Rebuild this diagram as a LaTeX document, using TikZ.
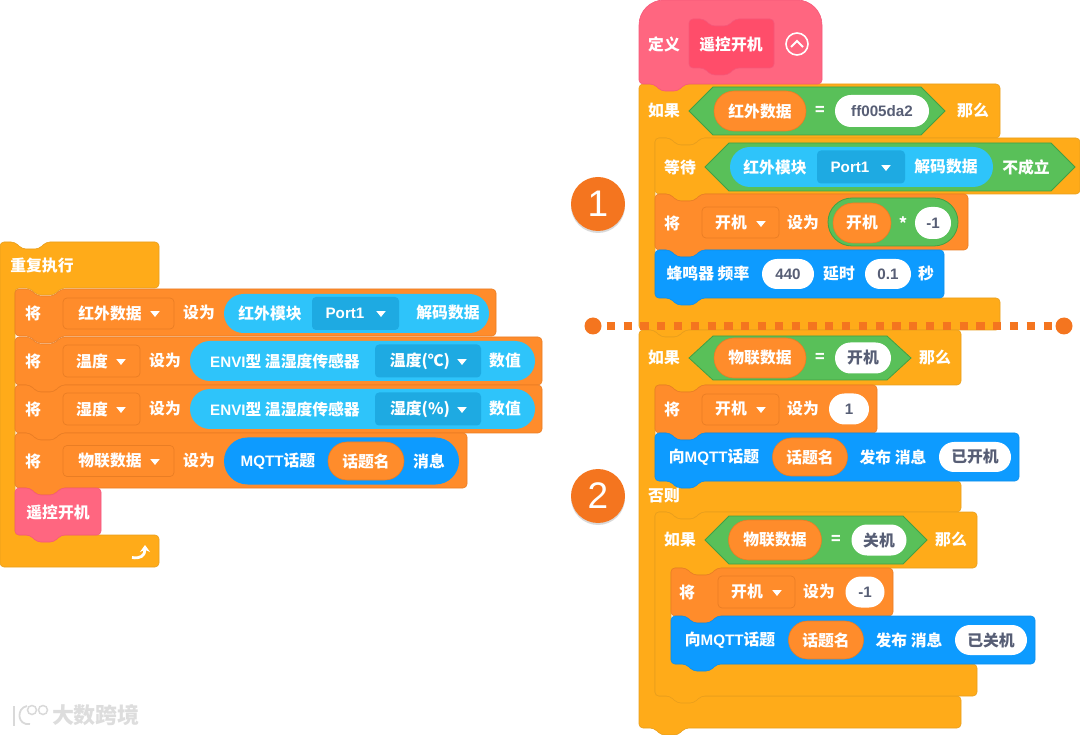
\documentclass[tikz,border=0pt]{standalone}
\usepackage{fontspec}
\setmainfont{Liberation Sans}
\newfontfamily\cjk{Noto Sans CJK SC}
\newfontfamily\lat[Scale=0.96]{Liberation Sans}
\usetikzlibrary{arrows.meta,shadows,shapes.geometric,shapes.misc}
\definecolor{yel}{HTML}{FFAB19}
\definecolor{yelline}{HTML}{E89E1C}
\definecolor{org}{HTML}{FF8C2B}
\definecolor{orgline}{HTML}{E97D24}
\definecolor{cyn}{HTML}{2EC4FA}
\definecolor{cynbox}{HTML}{1EAAE2}
\definecolor{blu}{HTML}{0D9BFF}
\definecolor{grn}{HTML}{59C059}
\definecolor{grnline}{HTML}{42A044}
\definecolor{pnk}{HTML}{FF6680}
\definecolor{pnkline}{HTML}{F5587A}
\definecolor{pnkbox}{HTML}{FF4D6A}
\definecolor{wtxt}{HTML}{575E75}
\definecolor{markorg}{HTML}{F4751F}
\newcommand{\blkfont}{\fontsize{15.8}{18}\selectfont\cjk\bfseries}
\tikzstyle{txt}=[inner sep=0, text=white, font=\blkfont]
\tikzstyle{wpill}=[shape=rounded rectangle, inner sep=0, fill=white, text=wtxt, font=\blkfont]
\tikzstyle{opill}=[shape=rounded rectangle, inner sep=0, fill=org, draw=orgline, line width=.6, text=white, font=\blkfont]
\tikzstyle{cpill}=[shape=rounded rectangle, inner sep=0, fill=cyn]
\tikzstyle{bpill}=[shape=rounded rectangle, inner sep=0, fill=blu]
\tikzstyle{gpill}=[shape=rounded rectangle, inner sep=0, fill=grn, draw=grnline, line width=.8]
\tikzstyle{ddbox}=[shape=rectangle, rounded corners=4, inner sep=0, fill=org, draw=orgline, line width=.7]
\tikzstyle{portbox}=[shape=rectangle, rounded corners=4, inner sep=0, fill=cynbox]
\tikzstyle{tri}=[shape=regular polygon, regular polygon sides=3, shape border rotate=180, minimum size=11, inner sep=0, fill=white, yscale=.72]
\tikzstyle{bignum}=[shape=circle, minimum size=54, inner sep=0, fill=markorg, text=white, font=\fontsize{37}{40}\selectfont, drop shadow={opacity=.3, shadow xshift=0pt, shadow yshift=-2pt}]
\tikzstyle{dot}=[shape=circle, minimum size=17, inner sep=0, fill=markorg]
\tikzstyle{yelblk}=[fill=yel, draw=yelline, line width=.6, rounded corners=4]
\tikzstyle{orgblk}=[fill=org, draw=orgline, line width=.6, rounded corners=4]
\tikzstyle{blublk}=[fill=blu, draw=blu!92!black, line width=.6, rounded corners=4]
\tikzstyle{pnkblk}=[fill=pnk, draw=pnkline, line width=.6, rounded corners=4]
\tikzstyle{hexa}=[fill=grn, draw=grnline, line width=.8]
\newcommand{\ntop}[2]{-- (#1+15,#2) -- (#1+22,#2+7) -- (#1+39,#2+7) -- (#1+46,#2)}
\newcommand{\tbot}[2]{-- (#1+46,#2) -- (#1+39,#2+7) -- (#1+22,#2+7) -- (#1+15,#2)}
\newcommand{\blk}[5]{\draw[#1] (#2,#3) \ntop{#2}{#3} -- (#2+#4,#3) -- (#2+#4,#3+#5) \tbot{#2}{#3+#5} -- (#2,#3+#5) -- cycle;}
\newcommand{\hexshape}[4]{\draw[hexa] (#1,{(#3+#4)/2}) -- (#1+24,#3) -- (#2-24,#3) -- (#2,{(#3+#4)/2}) -- (#2-24,#4) -- (#1+24,#4) -- cycle;}
\begin{document}
\begin{tikzpicture}[x=1pt, y=-1pt]
\useasboundingbox (0,0) rectangle (1080,735);

\draw[yelblk] (0,242) \ntop{0}{242} -- (159,242) -- (159,288) \tbot{15}{288} -- (15,288) -- (15,535) -- (159,535) -- (159,567) -- (0,567) -- cycle;
\node at (42,266)[txt](forever){重复执行};
\blk{orgblk}{15}{289}{481}{47}
\blk{orgblk}{15}{337}{527}{48}
\blk{orgblk}{15}{385}{527}{48}
\blk{orgblk}{15}{433}{452}{55}
\blk{pnkblk}{15}{488}{86}{47}
\foreach \y/\n in {313/a,361/b,409/c,461/d} {\node at (33,\y)[txt](jiang\n){将};}
\node at (118.5,313.5)[ddbox, minimum width=111, minimum height=31](ddirsel){};
\node at (110,313)[txt](irsel){红外数据};
\node at (155,313)[tri](triirsel){};
\node at (199,313)[txt](setirsel){设为};
\node at (356.5,313.5)[cpill, minimum width=265, minimum height=39](pillir){};
\node at (270,313)[txt](irmod){红外模块};
\node at (355.5,313.5)[portbox, minimum width=87, minimum height=33](portir){};
\node at (345,313)[txt](portirt){{\lat Port1}};
\node at (381,313)[tri](triport){};
\node at (448,313)[txt](irdec){解码数据};
\node at (101.5,361)[ddbox, minimum width=77, minimum height=32](ddtemp){};
\node at (92,361)[txt](temp){温度};
\node at (121,361)[tri](tritemp){};
\node at (165,361)[txt](settemp){设为};
\node at (362.5,361)[cpill, minimum width=345, minimum height=40](pilltemp){};
\node at (285,361)[txt](envia){{\lat ENVI}型 温湿度传感器};
\node at (428,361)[portbox, minimum width=106, minimum height=33](boxtemp){};
\node at (420,361)[txt](unittemp){温度(℃)};
\node at (462,361)[tri](triunita){};
\node at (505,361)[txt](vala){数值};
\node at (101.5,409)[ddbox, minimum width=77, minimum height=32](ddhum){};
\node at (92,409)[txt](hum){湿度};
\node at (121,409)[tri](trihum){};
\node at (165,409)[txt](sethum){设为};
\node at (362.5,409)[cpill, minimum width=345, minimum height=40](pillhum){};
\node at (285,409)[txt](envib){{\lat ENVI}型 温湿度传感器};
\node at (428,409)[portbox, minimum width=106, minimum height=33](boxhum){};
\node at (420,409)[txt](unithum){湿度(\%)};
\node at (462,409)[tri](triunitb){};
\node at (505,409)[txt](valb){数值};
\node at (118.5,461)[ddbox, minimum width=111, minimum height=31](ddiot){};
\node at (110,461)[txt](iot){物联数据};
\node at (155,461)[tri](triiot){};
\node at (199,461)[txt](setiot){设为};
\node at (341.5,461)[bpill, minimum width=235, minimum height=47](pillmq){};
\node at (278,461)[txt](mqtopic){{\lat MQTT}话题};
\node at (366,461)[opill, minimum width=76, minimum height=38](topicname){话题名};
\node at (429,461)[txt](mqmsg){消息};
\node at (58,512)[txt](callname){遥控开机};
\draw[white, line width=2.8, -{Stealth[length=7, width=10]}] (132,557.5) .. controls (140,559) and (145,556) .. (145,545);

\draw[yelblk] (639,84) -- (1000,84) -- (1000,138) \tbot{655}{138} -- (655,138) -- (655,298) -- (1000,298) -- (1000,330) \tbot{639}{330} -- (639,330) -- cycle;
\draw[yelblk] (639,330) \ntop{639}{330} -- (961,330) -- (961,385) \tbot{655}{385} -- (655,385) -- (655,481) -- (961,481) -- (961,512) \tbot{655}{512} -- (655,512) -- (655,696) -- (961,696) -- (961,728) \tbot{639}{728} -- (639,728) -- cycle;
\draw[fill=pnk, draw=pnkline, line width=.6] (639,84) [rounded corners=25] -- (639,0) -- (822,0) [rounded corners=4] -- (822,84) \tbot{639}{84} -- cycle;
\blk{fill=pnkbox, draw=pnkline, line width=.6, rounded corners=4}{689}{19}{85}{49}
\node at (664,44)[txt](defa){定义};
\node at (731,44)[txt](defname){遥控开机};
\node at (797,44)[shape=circle, minimum size=22, inner sep=0, draw=white, line width=1.6](collapse){};
\draw[white, line width=1.8] (791,47) -- (797,41) -- (803,47);

\node at (664,111)[txt](ifa){如果};
\hexshape{689}{945}{87}{135}
\node at (760,111)[opill, minimum width=92, minimum height=40](ifavar){红外数据};
\node at (820,111)[txt](ifaeq){=};
\node at (882,111)[wpill, minimum width=94, minimum height=32](ifaval){{\lat ff005da2}};
\node at (973,111)[txt](ifathen){那么};

\blk{yelblk}{655}{138}{425}{56}
\node at (680,167)[txt](waitt){等待};
\hexshape{705}{1075}{143}{191}
\node at (861.5,167)[cpill, minimum width=263, minimum height=40](pillwait){};
\node at (775,167)[txt](waitmod){红外模块};
\node at (861,167)[portbox, minimum width=88, minimum height=33](portwait){};
\node at (850,167)[txt](portwaitt){{\lat Port1}};
\node at (886,167)[tri](triwait){};
\node at (946,167)[txt](waitdec){解码数据};
\node at (1026,167)[txt](waitnot){不成立};

\blk{orgblk}{655}{194}{313}{56}
\node at (672,223)[txt](jianga){将};
\node at (740.5,222.5)[ddbox, minimum width=77, minimum height=31](ddkja){};
\node at (731,223)[txt](kja){开机};
\node at (761,223)[tri](trikja){};
\node at (803,223)[txt](setkja){设为};
\node at (893,222)[gpill, minimum width=130, minimum height=48](pillmul){};
\node at (862,223)[opill, minimum width=58, minimum height=40](kjb){开机};
\node at (903,223)[txt](mulop){*};
\node at (933,223)[wpill, minimum width=36, minimum height=32](minusa){{\lat -1}};

\blk{blublk}{655}{250}{289}{48}
\node at (708,274)[txt](beep){蜂鸣器 频率};
\node at (788,274)[wpill, minimum width=52, minimum height=30](freq){{\lat 440}};
\node at (839,274)[txt](delay){延时};
\node at (888,274)[wpill, minimum width=46, minimum height=30](dur){{\lat 0.1}};
\node at (926,274)[txt](sec){秒};

\node at (664,358)[txt](ifb){如果};
\hexshape{689}{911}{336}{380}
\node at (760,358)[opill, minimum width=92, minimum height=40](ifbvar){物联数据};
\node at (820,358)[txt](ifbeq){=};
\node at (863,358)[wpill, minimum width=56, minimum height=31](ifbval){开机};
\node at (935,358)[txt](ifbthen){那么};

\blk{orgblk}{655}{385}{222}{48}
\node at (672,409)[txt](jiangb){将};
\node at (740.5,409.5)[ddbox, minimum width=77, minimum height=31](ddkjc){};
\node at (731,409)[txt](kjc){开机};
\node at (761,409)[tri](trikjc){};
\node at (803,409)[txt](setkjc){设为};
\node at (849,409)[wpill, minimum width=40, minimum height=31](one){{\lat 1}};

\blk{blublk}{655}{433}{364}{48}
\node at (714,457)[txt](pubatopic){向{\lat MQTT}话题};
\node at (810,457)[opill, minimum width=75, minimum height=38](pubaname){话题名};
\node at (893,457)[txt](pubamsg){发布 消息};
\node at (975,457)[wpill, minimum width=72, minimum height=30](pubaval){已开机};
\node at (664,496)[txt](elsee){否则};

\draw[yelblk] (655,512) \ntop{655}{512} -- (977,512) -- (977,568) \tbot{671}{568} -- (671,568) -- (671,664) -- (977,664) -- (977,696) \tbot{655}{696} -- (655,696) -- cycle;
\node at (680,540)[txt](ifc){如果};
\hexshape{705}{927}{516}{564}
\node at (775,540)[opill, minimum width=93, minimum height=40](ifcvar){物联数据};
\node at (836,540)[txt](ifceq){=};
\node at (879,540)[wpill, minimum width=55, minimum height=31](ifcval){关机};
\node at (951,540)[txt](ifcthen){那么};

\blk{orgblk}{671}{568}{222}{48}
\node at (687,592)[txt](jiangc){将};
\node at (756.5,592)[ddbox, minimum width=77, minimum height=32](ddkjd){};
\node at (747,592)[txt](kjd){开机};
\node at (777,592)[tri](trikjd){};
\node at (819,592)[txt](setkjd){设为};
\node at (865,592)[wpill, minimum width=39, minimum height=31](minusb){{\lat -1}};

\blk{blublk}{671}{616}{364}{48}
\node at (730,640)[txt](pubbtopic){向{\lat MQTT}话题};
\node at (826,640)[opill, minimum width=75, minimum height=38](pubbname){话题名};
\node at (909,640)[txt](pubbmsg){发布 消息};
\node at (991,640)[wpill, minimum width=72, minimum height=30](pubbval){已关机};

\node at (598,204)[bignum](numa){1};
\node at (598,496)[bignum](numb){2};
\node at (593,326)[dot](dotl){};
\node at (1064,326)[dot](dotr){};
\draw[markorg, line width=8, dash pattern=on 8.3pt off 8.5pt, dash phase=11.8pt] (dotl)--(dotr);

\draw[gray!30, line width=1.8] (14,706)--(14,726);
\draw[gray!30, line width=1.8] (27,706) .. controls (16,708) and (17,726) .. (30,724);
\foreach \x in {32,43} {\draw[gray!30, line width=1.5] (\x,710) circle (4.5);}
\node at (96,715)[inner sep=0, text=gray!27, font=\fontsize{22}{24}\selectfont\cjk\bfseries](wmark){大数跨境};
\end{tikzpicture}
\end{document}
